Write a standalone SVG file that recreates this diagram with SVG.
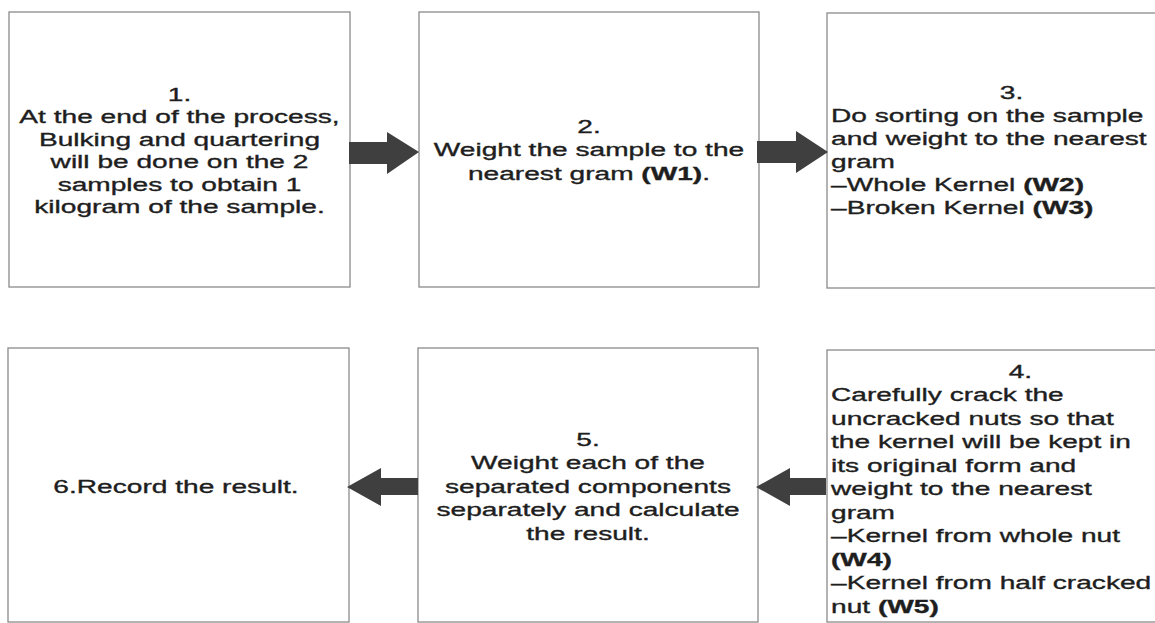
<svg xmlns="http://www.w3.org/2000/svg" width="1155" height="623" viewBox="0 0 1155 623">
<style>
.box{fill:#fff;stroke:#8a8a8a;stroke-width:1.3}
.t{font-family:"Liberation Sans",Arial,sans-serif;font-size:19px;fill:#1e1e1e;stroke:#1e1e1e;stroke-width:0.35}
.c{text-anchor:middle}
.b{font-weight:bold}
.arr{fill:#3f3f3f}
</style>
<rect width="1155" height="623" fill="#fff"/>
<g id="node1">
<rect class="box" x="9" y="12" width="341" height="275"/>
<g transform="translate(179.5,0) scale(1.48,1)">
<text class="t c" x="0" y="101">1.</text>
<text class="t c" x="0" y="123.5">At the end of the process,</text>
<text class="t c" x="0" y="146">Bulking and quartering</text>
<text class="t c" x="0" y="168.5">will be done on the 2</text>
<text class="t c" x="0" y="191">samples to obtain 1</text>
<text class="t c" x="0" y="213.5">kilogram of the sample.</text>
</g>
</g>
<g id="node2">
<rect class="box" x="419" y="12" width="340" height="275"/>
<g transform="translate(589,0) scale(1.48,1)">
<text class="t c" x="0" y="133">2.</text>
<text class="t c" x="0" y="156.5">Weight the sample to the</text>
<text class="t c" x="0" y="180">nearest gram <tspan class="b">(W1)</tspan>.</text>
</g>
</g>
<g id="node3">
<rect class="box" x="827" y="13" width="360" height="275"/>
<g transform="translate(831,0) scale(1.48,1)">
<text class="t" x="122" y="99" text-anchor="middle">3.</text>
<text class="t" x="0" y="122">Do sorting on the sample</text>
<text class="t" x="0" y="145">and weight to the nearest</text>
<text class="t" x="0" y="168">gram</text>
<text class="t" x="0" y="191">–Whole Kernel <tspan class="b">(W2)</tspan></text>
<text class="t" x="0" y="214">–Broken Kernel <tspan class="b">(W3)</tspan></text>
</g>
</g>
<g id="node4">
<rect class="box" x="827" y="350" width="360" height="272"/>
<g transform="translate(831,0) scale(1.48,1)">
<text class="t" x="128" y="378" text-anchor="middle">4.</text>
<text class="t" x="0" y="401.5">Carefully crack the</text>
<text class="t" x="0" y="425">uncracked nuts so that</text>
<text class="t" x="0" y="448.5">the kernel will be kept in</text>
<text class="t" x="0" y="472">its original form and</text>
<text class="t" x="0" y="495.5">weight to the nearest</text>
<text class="t" x="0" y="519">gram</text>
<text class="t" x="0" y="542.5">–Kernel from whole nut</text>
<text class="t b" x="0" y="566">(W4)</text>
<text class="t" x="0" y="589.5">–Kernel from half cracked</text>
<text class="t" x="0" y="613">nut <tspan class="b">(W5)</tspan></text>
</g>
</g>
<g id="node5">
<rect class="box" x="418" y="348" width="340" height="274"/>
<g transform="translate(588,0) scale(1.48,1)">
<text class="t c" x="0" y="446">5.</text>
<text class="t c" x="0" y="469.5">Weight each of the</text>
<text class="t c" x="0" y="493">separated components</text>
<text class="t c" x="0" y="516.5">separately and calculate</text>
<text class="t c" x="0" y="540">the result.</text>
</g>
</g>
<g id="node6">
<rect class="box" x="8" y="348" width="341" height="274"/>
<g transform="translate(176,0) scale(1.48,1)">
<text class="t c" x="0" y="493">6.Record the result.</text>
</g>
</g>
<g id="connectors">
<polygon class="arr" points="349,142 387,142 387,132 419,152 387,174 387,164 349,164"/>
<polygon class="arr" points="757,141 796,141 796,131 828,152 796,173 796,163 757,163"/>
<polygon class="arr" points="826,478 790,478 790,468 756,487 790,506 790,495 826,495"/>
<polygon class="arr" points="418,478 381,478 381,468 347,487 381,506 381,495 418,495"/>
</g>
</svg>
